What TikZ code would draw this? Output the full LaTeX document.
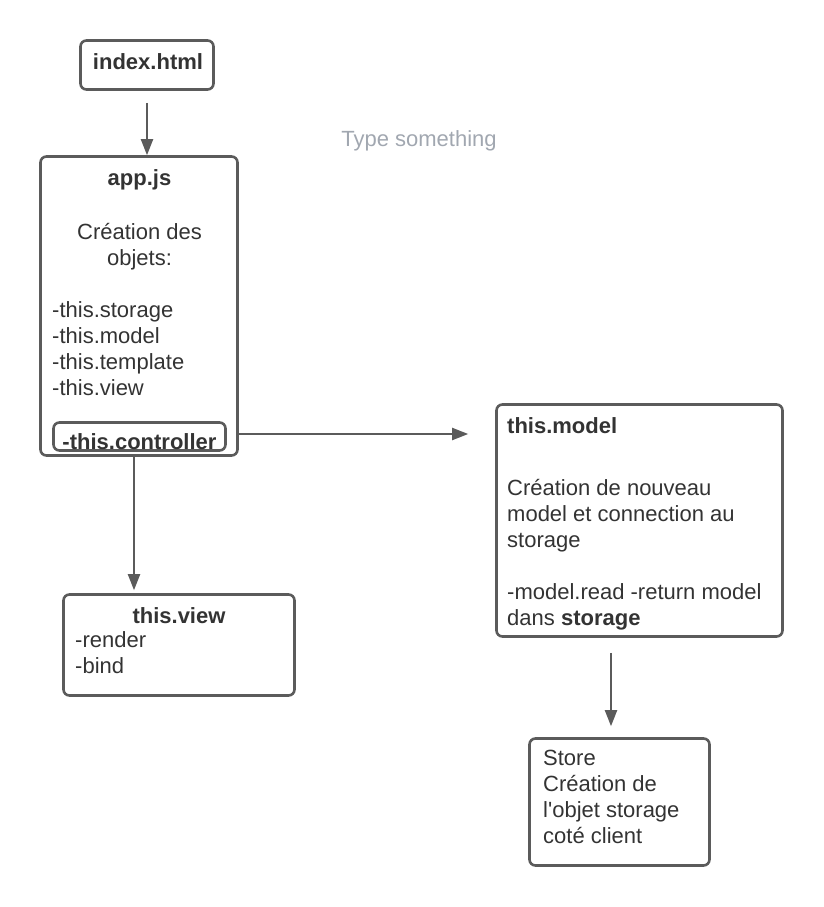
\documentclass[tikz,border=0pt]{standalone}
\usepackage{fontspec}
\setmainfont{Liberation Sans}
\usetikzlibrary{arrows.meta}

\definecolor{linecol}{HTML}{5B5B5B}
\definecolor{textcol}{HTML}{333333}
\definecolor{hintcol}{HTML}{A1A7B0}

\begin{document}
\begin{tikzpicture}[x = 1pt, y = -1pt,
	box/.style = {draw = linecol, line width = 2.6pt, rounded corners = 6pt, inner sep = 0pt},
	txt/.style = {text = textcol, font = \fontsize{22}{26}\selectfont, inner sep = 0pt},
	arr/.style = {draw = linecol, line width = 2pt, -{Triangle[length = 16pt, width = 12pt]}}]
	\useasboundingbox (0, 0) rectangle (824, 907);
	
	\node[box, minimum width = 133pt, minimum height = 49pt] (index) at (147, 65) {};
	\node[box, minimum width = 197pt, minimum height = 299pt] (app) at (139, 306) {};
	\node[box, minimum width = 172pt, minimum height = 28pt] (ctrl) at (139.5, 436.5) {};
	\node[box, minimum width = 286pt, minimum height = 232pt] (model) at (639.5, 520.5) {};
	\node[box, minimum width = 231pt, minimum height = 101pt] (view) at (179, 645) {};
	\node[box, minimum width = 180pt, minimum height = 127pt] (store) at (619.5, 802) {};
	
	\node[txt, anchor = base] (index-t) at (148, 70) {\textbf{index.html}};
	\node[txt, anchor = base, text = hintcol] (hint) at (419, 146) {Type something};
	
	\node[txt, anchor = base] (app-t1) at (139.5, 185) {\textbf{app.js}};
	\node[txt, anchor = base] (app-t2) at (139.5, 239) {Création des};
	\node[txt, anchor = base] (app-t3) at (139.5, 265) {objets:};
	\node[txt, anchor = base west] (app-t4) at (52, 317) {-this.storage};
	\node[txt, anchor = base west] (app-t5) at (52, 343) {-this.model};
	\node[txt, anchor = base west] (app-t6) at (52, 369) {-this.template};
	\node[txt, anchor = base west] (app-t7) at (52, 395) {-this.view};
	\node[txt, anchor = base] (ctrl-t) at (139.5, 449) {\textbf{-this.controller}};
	
	\node[txt, anchor = base west] (model-t1) at (507, 433) {\textbf{this.model}};
	\node[txt, anchor = base west] (model-t2) at (507, 495) {Création de nouveau};
	\node[txt, anchor = base west] (model-t3) at (507, 521) {model et connection au};
	\node[txt, anchor = base west] (model-t4) at (507, 547) {storage};
	\node[txt, anchor = base west] (model-t5) at (507, 599) {-model.read -return model};
	\node[txt, anchor = base west] (model-t6) at (507, 625) {dans \textbf{storage}};
	
	\node[txt, anchor = base] (view-t1) at (179, 623) {\textbf{this.view}};
	\node[txt, anchor = base west] (view-t2) at (75, 647) {-render};
	\node[txt, anchor = base west] (view-t3) at (75, 673) {-bind};
	
	\node[txt, anchor = base west] (store-t1) at (543, 765) {Store};
	\node[txt, anchor = base west] (store-t2) at (543, 791) {Création de};
	\node[txt, anchor = base west] (store-t3) at (543, 817) {l\textquotesingle objet storage};
	\node[txt, anchor = base west] (store-t4) at (543, 843) {coté client};
	
	\coordinate (app-out) at ([xshift = -5pt]app.south);
	\coordinate (store-in) at ([xshift = -8.5pt]store.north);
	
	\draw[arr, shorten < = 12pt] (index.south) -- (index.south |- app.north);
	\draw[arr, shorten > = 3pt] (app-out) -- (app-out |- view.north);
	\draw[arr, shorten > = 27pt] ([yshift = 2.5pt]app.east |- ctrl.center) -- ([yshift = 2.5pt]model.west |- ctrl.center);
	\draw[arr, shorten < = 15pt, shorten > = 11pt] (store-in |- model.south) -- (store-in);
\end{tikzpicture}
\end{document}
